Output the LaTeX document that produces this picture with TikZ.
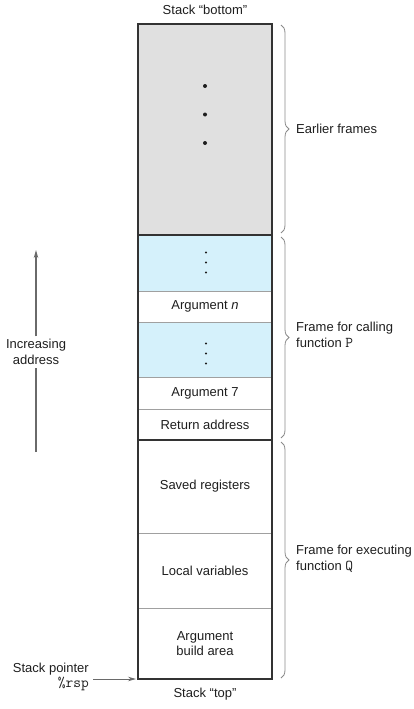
\documentclass[tikz,border=0pt]{standalone}
\usepackage{fontspec}
\setmainfont{Liberation Sans}
\usetikzlibrary{arrows.meta,decorations.pathreplacing}
\definecolor{grayfill}{HTML}{E0E0E0}
\definecolor{bluefill}{HTML}{D5F1FB}
\definecolor{outlinec}{HTML}{333333}
\definecolor{divc}{HTML}{A0A0A0}
\definecolor{bracec}{HTML}{8A8A8A}
\definecolor{arrowc}{HTML}{6A6A6A}
\definecolor{txt}{HTML}{1E1E1E}
\newcommand{\monotxt}[1]{{\ttfamily\fontsize{15}{15.5}\selectfont #1}}
\begin{document}
\begin{tikzpicture}[x=1pt,y=-1pt,
  every node/.style={font=\fontsize{13}{15.5}\selectfont, text=txt},
  cell/.style={anchor=north west, minimum width=134pt, inner sep=0pt, outer sep=0pt},
  outline/.style={draw=outlinec, line width=1.4pt},
  divider/.style={draw=divc, line width=0.8pt},
  thickdiv/.style={draw=outlinec, line width=1.2pt},
  bracestyle/.style={draw=bracec, line width=0.8pt, decorate,
     decoration={brace, amplitude=8pt, aspect=0.5}},
  arrowline/.style={draw=arrowc, line width=1.2pt},
  tipped/.style={arrowline, -{Stealth[length=8pt,width=4.5pt]}},
  lab/.style={anchor=west, align=left, inner sep=0pt},
  dotbig/.style={fill=txt},
]
\useasboundingbox (0,0) rectangle (414,709);

% cells
\node[cell, fill=grayfill, minimum height=211pt] (earlier) at (138,24) {};
\node[cell, fill=bluefill, minimum height=56pt] (blue1) at (138,235) {};
\node[cell, minimum height=31pt] (argn) at (138,291) {Argument \emph{n}};
\node[cell, fill=bluefill, minimum height=55pt] (blue2) at (138,322) {};
\node[cell, minimum height=32pt] (arg7) at (138,377) {Argument 7};
\node[cell, minimum height=31pt] (ret) at (138,409) {Return address};
\node[cell, minimum height=93pt] (saved) at (138,440) {Saved registers};
\node[cell, minimum height=75pt] (local) at (138,533) {Local variables};
\node[cell, minimum height=71pt, align=center] (build) at (138,608) {Argument\\build area};

% dividers
\draw[divider] (argn.north west) -- (argn.north east);
\draw[divider] (blue2.north west) -- (blue2.north east);
\draw[divider] (arg7.north west) -- (arg7.north east);
\draw[divider] (ret.north west) -- (ret.north east);
\draw[divider] (local.north west) -- (local.north east);
\draw[divider] (build.north west) -- (build.north east);
\draw[thickdiv] (blue1.north west) -- (blue1.north east);
\draw[thickdiv] (saved.north west) -- (saved.north east);
\draw[outline] (earlier.north west) rectangle (build.south east);

% dots
\fill[dotbig] (205,86) circle (2pt);
\fill[dotbig] (205,114.5) circle (2pt);
\fill[dotbig] (205,143) circle (2pt);
\fill[dotbig] (206,252.5) circle (1.2pt);
\fill[dotbig] (206,262.5) circle (1.2pt);
\fill[dotbig] (206,272.5) circle (1.2pt);
\fill[dotbig] (206,343.5) circle (1.2pt);
\fill[dotbig] (206,353.5) circle (1.2pt);
\fill[dotbig] (206,363.5) circle (1.2pt);

% top / bottom labels
\node (bottomlab) at (205,10) {Stack “bottom”};
\node (toplab) at (205,694) {Stack “top”};

% braces
\draw[bracestyle] (281,25) -- (281,233);
\draw[bracestyle] (281,237) -- (281,438);
\draw[bracestyle] (281,442) -- (281,678);
\node[lab] (earlab) at (296,129) {Earlier frames};
\node[lab] (plab) at (296,335) {Frame for calling\\function \monotxt{P}};
\node[lab] (qlab) at (296,559) {Frame for executing\\function \monotxt{Q}};

% increasing address arrow
\node[align=center, inner sep=3pt] (inc) at (36,352) {Increasing\\address};
\coordinate (arrbot) at (36,452);
\coordinate (arrtop) at (36,250);
\draw[arrowline] (arrbot) -- (inc.south);
\draw[tipped] (inc.north) -- (arrtop);

% stack pointer
\node[anchor=east, align=right, inner sep=2pt] (sp) at (91,677) {Stack pointer\\\monotxt{\%rsp}};
\coordinate (spcorner) at (build.south west);
\draw[tipped, line width=0.9pt, shorten >=2pt] (sp.east |- spcorner) ++(2,0) -- (spcorner);
\end{tikzpicture}
\end{document}
